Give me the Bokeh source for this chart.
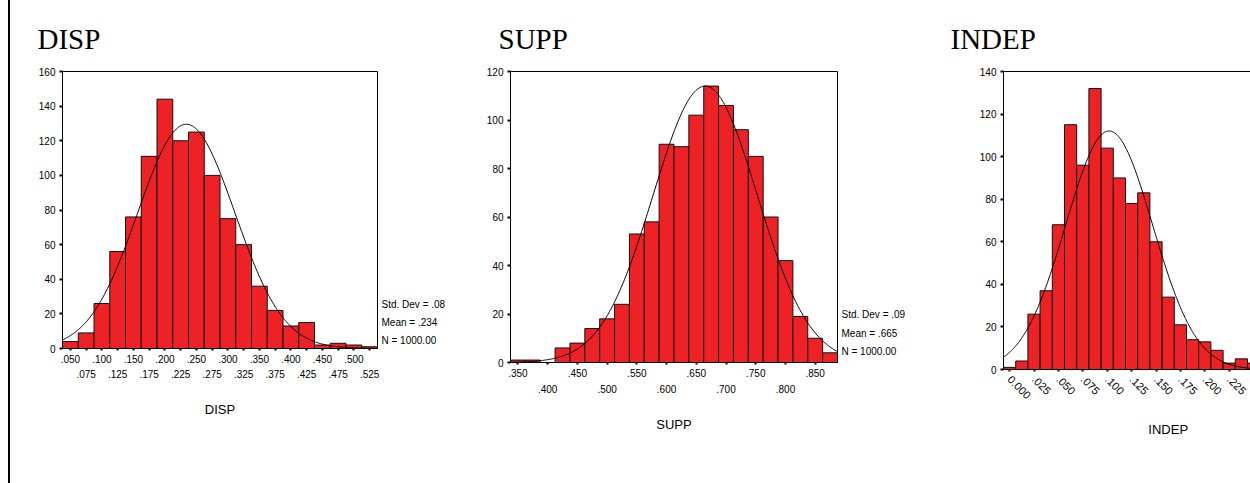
import numpy as np
from bokeh.plotting import figure
from bokeh.models import Range1d, FixedTicker, LinearAxis, Div
from bokeh.layouts import row
from bokeh.embed import file_html
from bokeh.resources import INLINE

# ---------------- data ----------------
disp_centers = [0.050, 0.075, 0.100, 0.125, 0.150, 0.175, 0.200, 0.225, 0.250, 0.275,
                0.300, 0.325, 0.350, 0.375, 0.400, 0.425, 0.450, 0.475, 0.500, 0.525]
disp_counts = [4, 9, 26, 56, 76, 111, 144, 120, 125, 100, 75, 60, 36, 22, 13, 15, 2, 3, 2, 1]
disp_bin = 0.025
disp_mean, disp_sd, disp_n = 0.234, 0.077, 1000
disp_stats = ["Std. Dev = .08", "Mean = .234", "N = 1000.00"]
disp_row1 = [0.050, 0.100, 0.150, 0.200, 0.250, 0.300, 0.350, 0.400, 0.450, 0.500]
disp_row2 = [0.075, 0.125, 0.175, 0.225, 0.275, 0.325, 0.375, 0.425, 0.475, 0.525]

supp_centers = [0.350, 0.375, 0.400, 0.425, 0.450, 0.475, 0.500, 0.525, 0.550, 0.575, 0.600,
                0.625, 0.650, 0.675, 0.700, 0.725, 0.750, 0.775, 0.800, 0.825, 0.850, 0.875]
supp_counts = [1, 1, 0, 6, 8, 14, 18, 24, 53, 58, 90, 89, 102, 114, 106, 96, 85, 60, 42, 19, 10, 4]
supp_bin = 0.025
supp_mean, supp_sd, supp_n = 0.665, 0.0875, 1000
supp_stats = ["Std. Dev = .09", "Mean = .665", "N = 1000.00"]
supp_row1 = [0.350, 0.450, 0.550, 0.650, 0.750, 0.850]
supp_row2 = [0.400, 0.500, 0.600, 0.700, 0.800]

indep_centers = [0.0000, 0.0125, 0.0250, 0.0375, 0.0500, 0.0625, 0.0750, 0.0875, 0.1000, 0.1125,
                 0.1250, 0.1375, 0.1500, 0.1625, 0.1750, 0.1875, 0.2000, 0.2125, 0.2250, 0.2375, 0.2500]
indep_counts = [1, 4, 26, 37, 68, 115, 96, 132, 104, 90, 78, 83, 60, 34, 21, 14, 13, 9, 3, 5, 3]
indep_bin = 0.0125
indep_mean, indep_sd, indep_n = 0.102, 0.0445, 1000
indep_ticks = [0.000, 0.025, 0.050, 0.075, 0.100, 0.125, 0.150, 0.175, 0.200, 0.225, 0.250]
indep_full_end = 0.33125

RED = "#EE2224"
SANS = "Liberation Sans"
SERIF = "Liberation Serif"

TOP = 71      # common top border (frames aligned by the row)
BOT = 80      # common bottom border


def fmt(v):
    s = "%.3f" % v
    return "0.000" if abs(v) < 1e-9 else s[1:]


def base_fig(width, frame_h, mbl, mbr, x0, x1, ymax, title, toff):
    p = figure(width=width, height=TOP + frame_h + BOT, x_range=Range1d(x0, x1),
               y_range=Range1d(0, ymax), output_backend="svg", toolbar_location=None,
               title=title, min_border_left=mbl, min_border_right=mbr,
               min_border_top=TOP, min_border_bottom=BOT)
    p.title.text_font = SERIF
    p.title.text_font_size = "29px"
    p.title.text_font_style = "normal"
    p.title.text_color = "black"
    p.title.align = "left"
    p.title.offset = toff
    p.title.standoff = 33
    p.xgrid.visible = False
    p.ygrid.visible = False
    p.outline_line_color = "black"
    p.outline_line_alpha = 1
    p.background_fill_color = "white"
    p.border_fill_color = "white"
    ya = p.yaxis[0]
    ya.ticker = FixedTicker(ticks=list(range(0, ymax + 1, 20)))
    ya.minor_tick_line_color = None
    ya.major_tick_in = 0
    ya.major_tick_out = 3
    ya.major_tick_line_width = 2
    ya.major_label_text_font = SANS
    ya.major_label_text_font_size = "10px"
    ya.major_label_text_color = "black"
    ya.major_label_standoff = 4
    ya.axis_line_color = "black"
    return p


def style_x(ax, ticks, labels, show_ticks=True, size="10px"):
    ax.ticker = FixedTicker(ticks=ticks)
    ax.major_label_overrides = {t: l for t, l in zip(ticks, labels)}
    ax.minor_tick_line_color = None
    ax.major_tick_in = 0
    ax.major_label_text_font = SANS
    ax.major_label_text_font_size = size
    ax.major_label_text_color = "black"
    ax.axis_label_text_font = SANS
    ax.axis_label_text_font_size = "13px"
    ax.axis_label_text_font_style = "normal"
    ax.axis_label_text_color = "black"
    if show_ticks:
        ax.major_tick_out = 2
        ax.major_tick_line_width = 2
        ax.axis_line_color = "black"
    else:
        ax.major_tick_out = 0
        ax.major_tick_line_color = None
        ax.axis_line_color = None


def add_hist(p, centers, counts, bw, mean, sd, n, x0, x1):
    left = [c - bw / 2 for c in centers]
    right = [c + bw / 2 for c in centers]
    p.quad(left=left, right=right, top=counts, bottom=0, fill_color=RED,
           line_color="#111111", line_width=1)
    xs = np.linspace(x0, x1, 400)
    ys = n * bw / (sd * np.sqrt(2 * np.pi)) * np.exp(-0.5 * ((xs - mean) / sd) ** 2)
    p.line(xs, ys, line_color="black", line_width=1)


def add_stats(p, lines, px_offs, frame_h, ymax):
    ticks = [o * ymax / frame_h for o in px_offs]
    ax = LinearAxis(ticker=FixedTicker(ticks=ticks))
    ax.major_label_overrides = {t: l for t, l in zip(ticks, lines)}
    ax.axis_line_color = None
    ax.major_tick_line_color = None
    ax.minor_tick_line_color = None
    ax.major_tick_out = 0
    ax.major_tick_in = 0
    ax.major_label_standoff = 4
    ax.major_label_text_font = SANS
    ax.major_label_text_font_size = "10px"
    ax.major_label_text_color = "black"
    p.add_layout(ax, "right")


# ---------- DISP ----------
d0 = disp_centers[0] - disp_bin / 2
d1 = disp_centers[-1] + disp_bin / 2
FH1 = 277
p1 = base_fig(460, FH1, 52, 93, d0, d1, 160, "DISP", -25)
add_hist(p1, disp_centers, disp_counts, disp_bin, disp_mean, disp_sd, disp_n, d0, d1)
style_x(p1.xaxis[0], disp_centers,
        [fmt(c) if c in disp_row1 else "" for c in disp_centers])
p1.xaxis[0].major_label_standoff = 4
ax2 = LinearAxis()
style_x(ax2, disp_row2, [fmt(c) for c in disp_row2], show_ticks=False)
ax2.major_label_standoff = 4
ax2.axis_label = "DISP"
ax2.axis_label_standoff = 21
p1.add_layout(ax2, "below")
add_stats(p1, disp_stats, [44.5, 26, 8], FH1, 160)

# ---------- SUPP ----------
s0 = supp_centers[0] - supp_bin / 2
s1 = supp_centers[-1] + supp_bin / 2
FH2 = 291
p2 = base_fig(470, FH2, 40, 103, s0, s1, 120, "SUPP", -12)
add_hist(p2, supp_centers, supp_counts, supp_bin, supp_mean, supp_sd, supp_n, s0, s1)
all2 = sorted(supp_row1 + supp_row2)
style_x(p2.xaxis[0], all2, [fmt(c) if c in supp_row1 else "" for c in all2])
p2.xaxis[0].major_label_standoff = 4
bx2 = LinearAxis()
style_x(bx2, supp_row2, [fmt(c) for c in supp_row2], show_ticks=False)
bx2.major_label_standoff = 5
bx2.axis_label = "SUPP"
bx2.axis_label_standoff = 21
p2.add_layout(bx2, "below")
add_stats(p2, supp_stats, [48, 29.5, 11], FH2, 120)

# ---------- INDEP ----------
i0 = indep_centers[0] - indep_bin / 2
i1 = i0 + 247 / 12.2 * indep_bin
FH3 = 298
p3 = base_fig(310, FH3, 63, 0, i0, i1, 140, "INDEP", -53)
p3.outline_line_color = None
add_hist(p3, indep_centers, indep_counts, indep_bin, indep_mean, indep_sd, indep_n, i0, i1)
style_x(p3.xaxis[0], indep_ticks, [fmt(c) for c in indep_ticks], size="11px")
p3.xaxis[0].major_label_orientation = -np.pi / 4
p3.xaxis[0].major_label_standoff = 6
top = LinearAxis(ticker=FixedTicker(ticks=[]))
top.axis_line_color = "black"
top.major_tick_line_color = None
top.minor_tick_line_color = None
top.major_tick_out = 0
top.major_tick_in = 0
p3.add_layout(top, "above")
# axis title centred under the full (partly off-screen) frame
mid3 = (i0 + indep_full_end) / 2
lab3 = LinearAxis(ticker=FixedTicker(ticks=[mid3]))
style_x(lab3, [mid3], ["INDEP"], show_ticks=False, size="13px")
lab3.major_label_standoff = 16
p3.add_layout(lab3, "below")

bar = Div(text="", width=2, height=483, margin=(0, 0, 0, 8),
          styles={"background-color": "black"})
layout = row(bar, p1, p2, p3)
open("out.html", "w").write(file_html(layout, INLINE))
